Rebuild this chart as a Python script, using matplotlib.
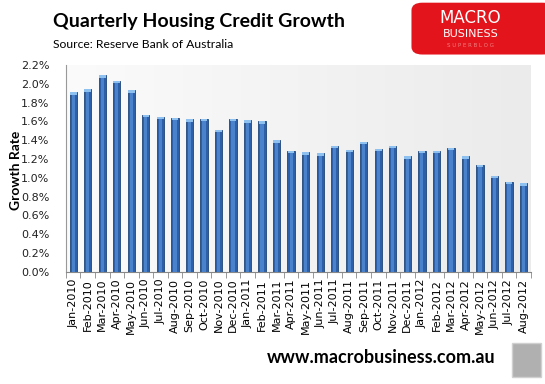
import numpy as np
import matplotlib.pyplot as plt
from matplotlib.colors import LinearSegmentedColormap
from matplotlib.patches import FancyBboxPatch, Rectangle

# data
months = ["Jan-2010", "Feb-2010", "Mar-2010", "Apr-2010", "May-2010", "Jun-2010",
          "Jul-2010", "Aug-2010", "Sep-2010", "Oct-2010", "Nov-2010", "Dec-2010",
          "Jan-2011", "Feb-2011", "Mar-2011", "Apr-2011", "May-2011", "Jun-2011",
          "Jul-2011", "Aug-2011", "Sep-2011", "Oct-2011", "Nov-2011", "Dec-2011",
          "Jan-2012", "Feb-2012", "Mar-2012", "Apr-2012", "May-2012", "Jun-2012",
          "Jul-2012", "Aug-2012"]
growth = [1.91, 1.94, 2.09, 2.03, 1.93, 1.67, 1.65, 1.64, 1.62, 1.63, 1.51, 1.63,
          1.61, 1.60, 1.40, 1.29, 1.27, 1.26, 1.34, 1.30, 1.38, 1.31, 1.34, 1.23,
          1.29, 1.29, 1.32, 1.23, 1.14, 1.02, 0.96, 0.94]
yticks = [0.0, 0.2, 0.4, 0.6, 0.8, 1.0, 1.2, 1.4, 1.6, 1.8, 2.0, 2.2]

plt.rcParams['font.family'] = ['Lato', 'DejaVu Sans']

fig = plt.figure(figsize=(5.45, 3.84), dpi=100)
ax = fig.add_axes([0.121, 0.292, 0.853, 0.539])

x = np.arange(len(months))

# plot area gradient (white -> light grey)
grad = np.linspace(0, 1, 256).reshape(1, -1)
bg = LinearSegmentedColormap.from_list('bg', ['#fbfbfb', '#ebebeb'])
ax.imshow(grad, extent=[-0.5, len(months) - 0.5, 0, 2.2], aspect='auto', cmap=bg, zorder=0)

# bars with a bit of shading
ax.bar(x, growth, width=0.5, color='#2d60a8', edgecolor='#1f4677', linewidth=0.6, zorder=2)
ax.bar(x, growth, width=0.22, color='#4a82cc', linewidth=0, zorder=3)
ax.bar(x, [0.025] * len(x), bottom=np.array(growth) - 0.025, width=0.46,
       color='#8ec0f0', linewidth=0, zorder=4)

ax.set_xlim(-0.5, len(months) - 0.5)
ax.set_ylim(0, 2.2)
ax.set_yticks(yticks)
ax.set_yticklabels([f"{v:.1f}%" for v in yticks], fontsize=8, family='DejaVu Sans')
ax.tick_params(axis='y', length=0, pad=12, colors='#222222')

ax.set_xticks(x)
ax.set_xticklabels(months, rotation=90, fontsize=8, family='DejaVu Sans')
ax.tick_params(axis='x', length=0, pad=5)
ax.set_xticks(np.arange(-0.5, len(months)), minor=True)
ax.tick_params(axis='x', which='minor', length=4, color='#888888', direction='out')

for s in ['top', 'right']:
    ax.spines[s].set_visible(False)
ax.spines['left'].set_color('#999999')
ax.spines['bottom'].set_color('#888888')

fig.text(0.03, 0.557, "Growth Rate", fontsize=10, fontweight='bold', rotation=90,
         ha='center', va='center')

# header
fig.text(0.097, 0.945, "Quarterly Housing Credit Growth", fontsize=14,
         fontweight='bold', va='center', ha='left')
fig.text(0.097, 0.885, "Source: Reserve Bank of Australia", fontsize=8.7,
         va='center', ha='left')

# logo block
logo = FancyBboxPatch((0.755, 0.858), 0.26, 0.135, boxstyle="round,pad=0,rounding_size=0.02",
                      transform=fig.transFigure, facecolor='#e3141c', edgecolor='none')
fig.patches.append(logo)
fig.text(0.863, 0.953, "MACRO", color='white', fontsize=12, ha='center', va='center',
         family='DejaVu Sans')
fig.text(0.863, 0.912, "BUSINESS", color='white', fontsize=8, ha='center', va='center',
         family='DejaVu Sans')
fig.text(0.863, 0.882, "S U P E R B L O G", color='#f08080', fontsize=4, ha='center',
         va='center', family='DejaVu Sans')

# footer
fig.text(0.49, 0.068, "www.macrobusiness.com.au", fontsize=13, fontweight='bold',
         va='center', ha='left')
fig.patches.append(Rectangle((0.94, 0.018), 0.052, 0.09, transform=fig.transFigure,
                             facecolor='#b0b0b0', edgecolor='#d0d0d0', linewidth=1))

fig.savefig("out.png", dpi=100)
